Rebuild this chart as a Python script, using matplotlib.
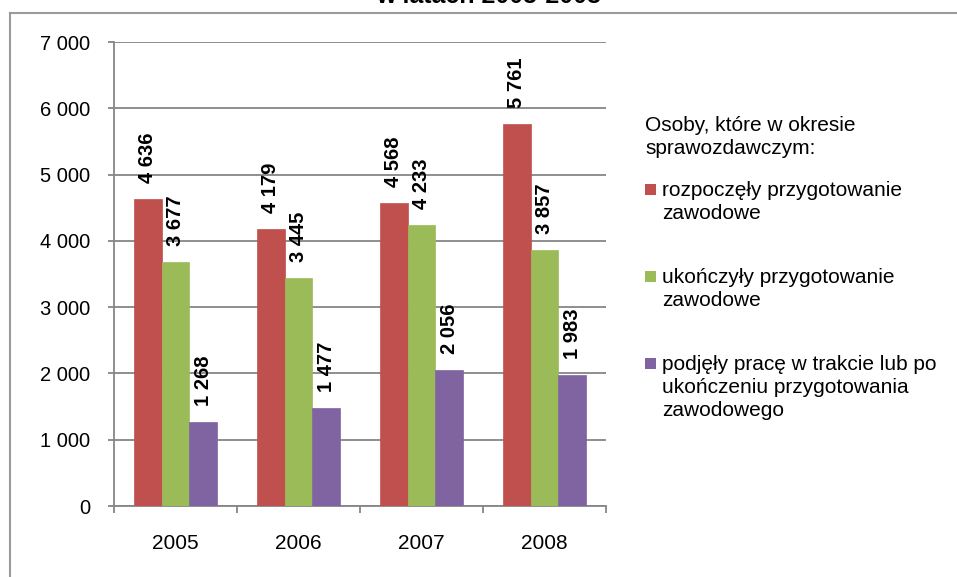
import numpy as np
import matplotlib
matplotlib.use("Agg")
import matplotlib.pyplot as plt
from matplotlib.patches import Rectangle
from matplotlib.lines import Line2D

plt.rcParams["font.family"] = ["Liberation Sans", "DejaVu Sans"]

years = ["2005", "2006", "2007", "2008"]
started = [4636, 4179, 4568, 5761]
finished = [3677, 3445, 4233, 3857]
employed = [1268, 1477, 2056, 1983]

series_labels = [
    "rozpoczęły przygotowanie\nzawodowe",
    "ukończyły przygotowanie\nzawodowe",
    "podjęły pracę w trakcie lub po\nukończeniu przygotowania\nzawodowego",
]
series_colors = ["#C0504D", "#9BBB59", "#8064A2"]
legend_title = "Osoby, które w okresie\nsprawozdawczym:"
title = "w latach 2005-2008"


def fmt(v):
    return f"{v:,}".replace(",", " ")


W, H = 957, 577
fig = plt.figure(figsize=(W / 100, H / 100), dpi=100)
ax = fig.add_axes([114 / W, 1 - 506 / H, (606 - 114) / W, (506 - 42) / H])

grey = "#868686"
x = np.arange(len(years))
width = 0.224

for i, (vals, color) in enumerate(zip([started, finished, employed], series_colors)):
    pos = x + (i - 1) * width
    ax.bar(pos, vals, width, color=color, edgecolor=color, linewidth=0.5, zorder=3)
    for px, v in zip(pos, vals):
        ax.annotate(fmt(v), (px, v), xytext=(0, 11.5),
                    textcoords="offset points", rotation=90, ha="center",
                    va="bottom", fontsize=14.5, fontweight="bold", zorder=4)

ax.set_xlim(-0.5, 3.5)
ax.set_ylim(0, 7000)
ax.set_yticks(np.arange(0, 7001, 1000))
ax.set_yticklabels([fmt(v) for v in range(0, 7001, 1000)])
ax.yaxis.grid(True, color=grey, linewidth=1.3, zorder=0)
ax.set_axisbelow(True)

ax.set_xticks(x)
ax.set_xticklabels(years)
ax.set_xticks(np.arange(-0.5, 4, 1), minor=True)
ax.tick_params(axis="x", which="major", length=0, pad=20, labelsize=15)
ax.tick_params(axis="x", which="minor", length=5, width=1.3, color=grey)
ax.tick_params(axis="y", length=4.3, width=1.3, color=grey, pad=13, labelsize=14.5)

for side in ["top", "right"]:
    ax.spines[side].set_visible(False)
for side in ["left", "bottom"]:
    ax.spines[side].set_color(grey)
    ax.spines[side].set_linewidth(1.3)

# title line, mostly above the canvas
fig.text(489 / W, 1 - 3 / H, title, ha="center", va="baseline",
         fontsize=18, fontweight="bold")

# outer frame (top and left edges only visible)
fig.add_artist(Line2D([9.5 / W, 1], [1 - 13 / H, 1 - 13 / H], color="#9a9a9a",
                      linewidth=1.5, transform=fig.transFigure))
fig.add_artist(Line2D([9.5 / W, 9.5 / W], [0, 1 - 13 / H], color="#9a9a9a",
                      linewidth=1.5, transform=fig.transFigure))

# legend
fig.text(645 / W, 1 - 116 / H, legend_title, ha="left", va="top",
         fontsize=15, linespacing=1.25)
entry_tops = [182, 269, 356]
for label, color, top in zip(series_labels, series_colors, entry_tops):
    fig.add_artist(Rectangle((645 / W, 1 - (top + 2 + 11) / H), 11 / W, 11 / H,
                             facecolor=color, edgecolor="none",
                             transform=fig.transFigure))
    fig.text(662 / W, 1 - (top - 1) / H, label, ha="left", va="top",
             fontsize=15, linespacing=1.25)

fig.savefig("out.png", dpi=100)
